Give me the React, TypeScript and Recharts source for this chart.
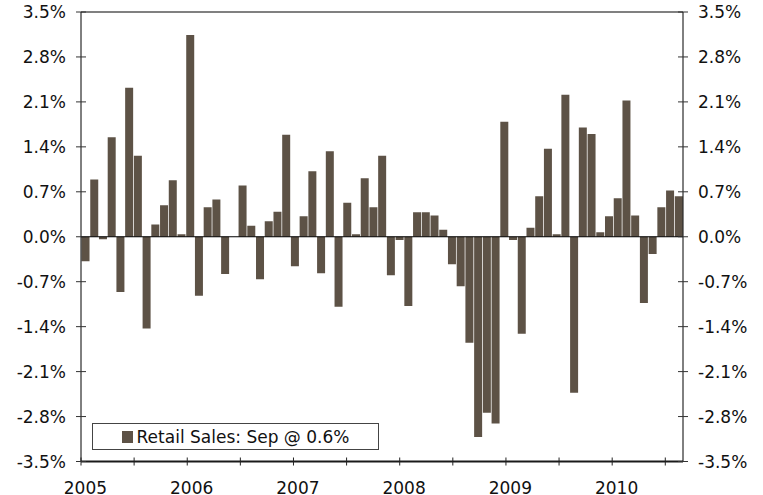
import React from 'react';
import { ComposedChart, Bar, XAxis, YAxis, ReferenceLine, Legend } from 'recharts';

// Monthly retail sales, % change, Jan 2005 - Sep 2010
const months: string[] = [];
const years = ['2005', '2006', '2007', '2008', '2009', '2010'];
const monthNames = ['Jan', 'Feb', 'Mar', 'Apr', 'May', 'Jun', 'Jul', 'Aug', 'Sep', 'Oct', 'Nov', 'Dec'];

const sales2005 = [-0.38, 0.89, -0.04, 1.55, -0.86, 2.32, 1.26, -1.43, 0.19, 0.49, 0.88, 0.04];
const sales2006 = [3.14, -0.92, 0.46, 0.58, -0.58, 0.0, 0.8, 0.17, -0.66, 0.24, 0.39, 1.59];
const sales2007 = [-0.46, 0.32, 1.02, -0.57, 1.33, -1.09, 0.53, 0.04, 0.91, 0.46, 1.26, -0.6];
const sales2008 = [-0.05, -1.08, 0.38, 0.38, 0.33, 0.11, -0.43, -0.77, -1.65, -3.12, -2.74, -2.91];
const sales2009 = [1.79, -0.05, -1.51, 0.14, 0.63, 1.37, 0.04, 2.21, -2.43, 1.7, 1.6, 0.07];
const sales2010 = [0.32, 0.6, 2.12, 0.33, -1.03, -0.27, 0.46, 0.72, 0.63];

const yTicks = [-3.5, -2.8, -2.1, -1.4, -0.7, 0, 0.7, 1.4, 2.1, 2.8, 3.5];

const allSales = [...sales2005, ...sales2006, ...sales2007, ...sales2008, ...sales2009, ...sales2010];
allSales.forEach((_, i) => months.push(`${monthNames[i % 12]} ${years[Math.floor(i / 12)]}`));

const data = allSales.map((v, i) => ({ month: months[i], sales: v }));

// half-year boundaries get a tick mark, January centres get the year label
const monthAxisTicks: number[] = [];
for (let m = 0; m < allSales.length; m += 6) {
  monthAxisTicks.push(m);
  if (m % 12 === 0) monthAxisTicks.push(m + 0.5);
}

const FONT = '"DejaVu Sans", Verdana, sans-serif';
const FS = 17;
const BAR = '#5d5246';

const last = data[data.length - 1];
const legendText = `Retail Sales: ${last.month.split(' ')[0]} @ ${last.sales.toFixed(1)}%`;

const MonthTick = (props: any) => {
  const { x, y, payload } = props;
  const v = payload.value as number;
  if (v % 12 === 0.5) {
    return (
      <text x={x} y={y + 32} textAnchor="middle" fontFamily={FONT} fontSize={FS} fill="#111">
        {years[(v - 0.5) / 12]}
      </text>
    );
  }
  return <line x1={x} x2={x} y1={y - 4} y2={y + 4} stroke="#222" strokeWidth={1} />;
};

const pct = (v: number) => `${v.toFixed(1)}%`;

const LeftTick = (props: any) => {
  const { x, y, payload } = props;
  return (
    <g>
      <line x1={x - 5} x2={x + 5} y1={y} y2={y} stroke="#333" />
      <text x={x - 15} y={y} dy="0.36em" textAnchor="end" fontFamily={FONT} fontSize={FS} fill="#111">
        {pct(payload.value)}
      </text>
    </g>
  );
};

const RightTick = (props: any) => {
  const { x, y, payload } = props;
  return (
    <g>
      <line x1={x - 5} x2={x + 5} y1={y} y2={y} stroke="#333" />
      <text x={x + 15} y={y} dy="0.36em" textAnchor="start" fontFamily={FONT} fontSize={FS} fill="#111">
        {pct(payload.value)}
      </text>
    </g>
  );
};

const LegendBox = () => (
  <div
    style={{
      width: 287,
      height: 27,
      boxSizing: 'border-box',
      border: '1px solid #444',
      background: '#fff',
      display: 'flex',
      alignItems: 'center',
      justifyContent: 'center',
      fontFamily: FONT,
      fontSize: FS,
      color: '#111',
    }}
  >
    <span style={{ display: 'inline-block', width: 11, height: 12, background: BAR, marginRight: 4 }} />
    <span>{legendText}</span>
  </div>
);

export default function App() {
  return (
    <div style={{ position: 'absolute', left: 0, top: 0, width: 763, height: 495, background: '#fff' }}>
      <ComposedChart
        width={763}
        height={495}
        data={data}
        margin={{ top: 12, right: 0, bottom: 0, left: 0 }}
        barCategoryGap="6%"
      >
        <XAxis xAxisId="m" dataKey="month" hide height={0} />
        <XAxis
          xAxisId="t"
          type="number"
          domain={[0, allSales.length]}
          allowDataOverflow
          ticks={monthAxisTicks}
          interval={0}
          height={33.5}
          tickSize={0}
          tickMargin={0}
          tickLine={false}
          axisLine={{ stroke: '#1a1a1a', strokeWidth: 2 }}
          tick={<MonthTick />}
        />
        <YAxis
          yAxisId="l"
          orientation="left"
          width={81}
          domain={[-3.5, 3.5]}
          allowDataOverflow
          ticks={yTicks}
          interval={0}
          tickSize={0}
          tickMargin={0}
          tickLine={false}
          axisLine={{ stroke: '#000' }}
          tick={<LeftTick />}
        />
        <YAxis
          yAxisId="r"
          orientation="right"
          width={80}
          domain={[-3.5, 3.5]}
          allowDataOverflow
          ticks={yTicks}
          interval={0}
          tickSize={0}
          tickMargin={0}
          tickLine={false}
          axisLine={{ stroke: '#000' }}
          tick={<RightTick />}
        />
        <ReferenceLine xAxisId="m" yAxisId="l" y={3.5} stroke="#808080" strokeWidth={2} />
        <Bar xAxisId="m" yAxisId="l" dataKey="sales" fill={BAR} isAnimationActive={false} />
        <ReferenceLine xAxisId="m" yAxisId="l" y={0} stroke="#000" strokeWidth={1} />
        <Legend
          layout="horizontal"
          verticalAlign="middle"
          align="center"
          wrapperStyle={{ left: 92, top: 423, width: 287, height: 27 }}
          content={<LegendBox />}
        />
      </ComposedChart>
    </div>
  );
}
